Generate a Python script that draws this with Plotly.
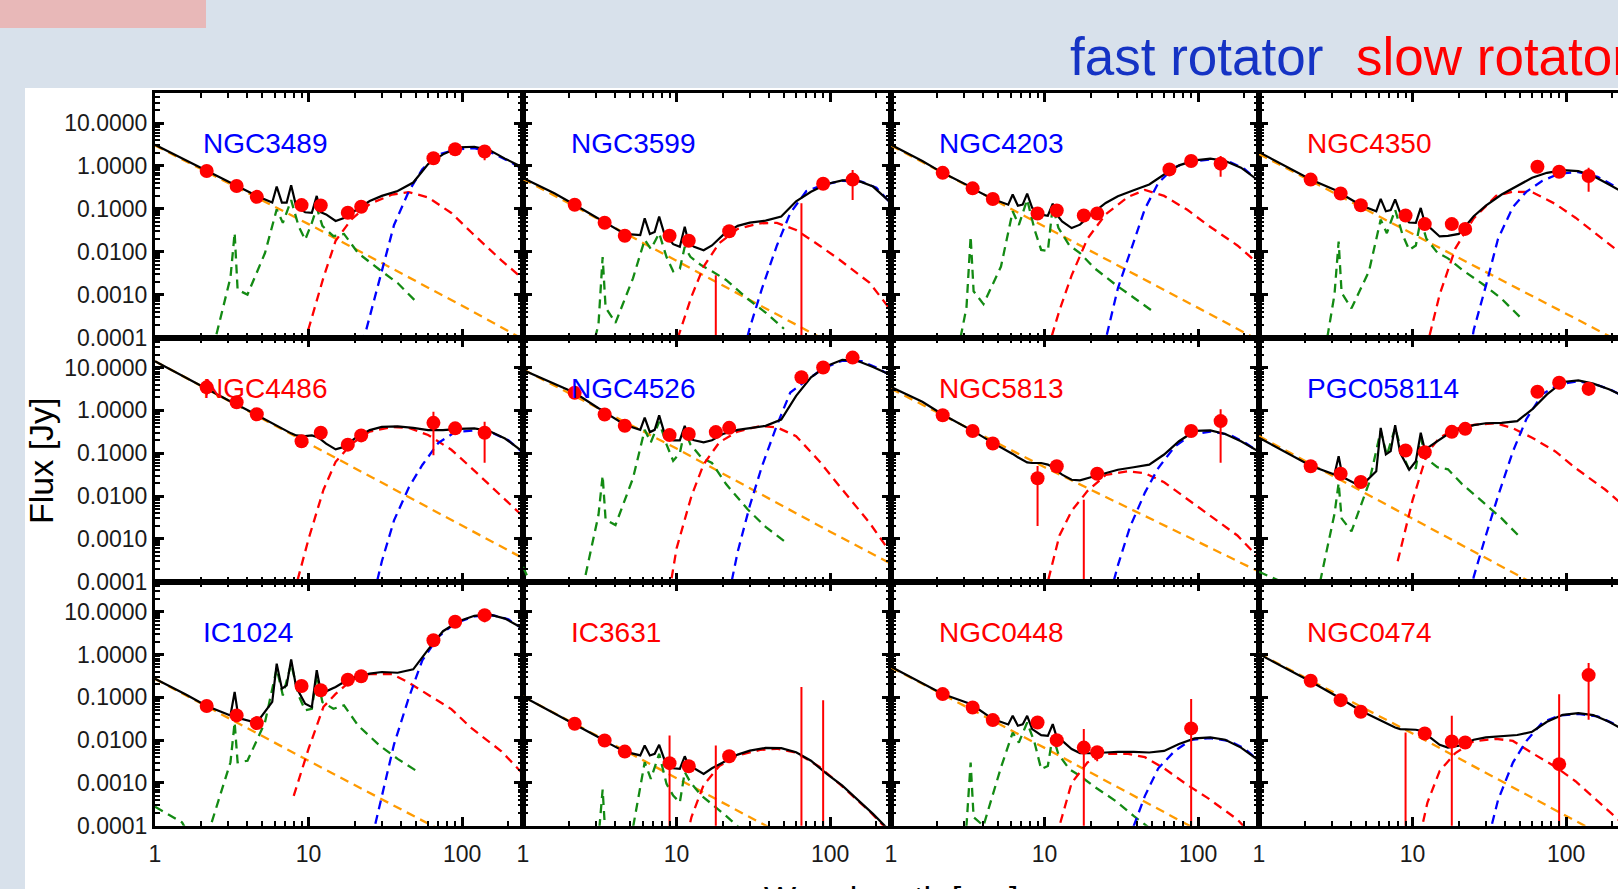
import plotly.graph_objects as go

# ---------------- wavelength grids (micron) ----------------
WL_PHOT = [2.17, 3.4, 4.6, 9, 12, 18, 22, 65, 90, 140]
WL_TOTAL = [1, 1.6, 2.17, 3.1, 3.3, 3.5, 4.6, 5.8, 6.2, 6.7, 7.2, 7.7, 8.3, 9.5, 10.5, 11.3,
            12.0, 13, 15, 17, 20, 25, 30, 38, 48, 60, 75, 95, 120, 150, 190, 250]
WL_STAR = [1, 10, 100, 250]
WL_PAH = [1, 1.5, 2.0, 2.5, 3.1, 3.3, 3.45, 4.0, 5.2, 6.2, 6.8, 7.7, 8.6, 9.5, 10.5, 11.3,
          12.3, 14.5, 17, 21, 29, 38, 50]
WL_WARM = [8, 10, 12.5, 15, 19, 25, 35, 45, 60, 85, 115, 180, 250]
WL_COLD = [20, 25, 30, 36, 45, 55, 70, 90, 120, 160, 200, 250]

# ---------------- NGC3489 ----------------
ngc3489_phot = [0.76, 0.34, 0.19, 0.122, 0.12, 0.081, 0.112, 1.51, 2.45, 2.16]
ngc3489_err = [0, 0, 0, 0, 0, 0, 0, 0, 0, 0.8]
ngc3489_total = [3.1, 1.33, 0.76, 0.40, 0.355, 0.32, 0.20, 0.14, 0.33, 0.14, 0.14, 0.355, 0.115, 0.083,
                 0.081, 0.20, 0.083, 0.074, 0.052, 0.061, 0.089, 0.152, 0.20, 0.26, 0.41, 1.1, 1.86,
                 2.7, 2.8, 2.35, 1.48, 0.91]
ngc3489_star = [3.0, 0.044, 5.5e-4, 9e-5]
ngc3489_pah = [1.1e-4, 1e-5, 1e-5, 1.1e-4, 2.5e-3, 0.0275, 1.3e-3, 1.0e-3, 9.3e-3, 0.097, 0.047, 0.16,
               0.04, 0.019, 0.047, 0.106, 0.04, 0.023, 0.026, 9.3e-3, 3.8e-3, 1.86e-3, 6.9e-4]
ngc3489_warm = [1.5e-5, 1.6e-4, 2.5e-3, 0.018, 0.057, 0.13, 0.215, 0.245, 0.185, 0.08, 0.028, 6.3e-3, 2.3e-3]
ngc3489_cold = [1.5e-5, 3e-4, 3.3e-3, 0.042, 0.26, 0.84, 1.85, 2.4, 2.6, 1.95, 1.3, 0.83]

# ---------------- NGC3599 ----------------
ngc3599_phot = [0.124, 0.0475, 0.0236, 0.0236, 0.018, 3e-5, 0.030, 3e-5, 0.385, 0.48]
ngc3599_err = [0, 0, 0, 0, 0, 2.8e-3, 0, 0.135, 0, 0.32]
ngc3599_total = [0.52, 0.23, 0.124, 0.060, 0.052, 0.046, 0.026, 0.0244, 0.060, 0.0258, 0.029, 0.066,
                 0.027, 0.015, 0.013, 0.038, 0.0156, 0.013, 0.0108, 0.014, 0.0244, 0.040, 0.0475, 0.053,
                 0.066, 0.15, 0.25, 0.38, 0.46, 0.46, 0.33, 0.135]
ngc3599_star = [0.5, 6.2e-3, 7.5e-5, 1.3e-5]
ngc3599_pah = [1e-5, 1e-5, 1e-5, 1e-5, 2e-4, 7.5e-3, 5e-4, 2.2e-4, 2.4e-3, 0.019, 0.0115, 0.027, 7.5e-3,
               3.5e-3, 4.0e-3, 0.013, 7.6e-3, 4.8e-3, 3.5e-3, 2.2e-3, 8e-4, 3.8e-4, 1.6e-4]
ngc3599_warm = [1e-5, 8e-5, 9e-4, 4.5e-3, 0.016, 0.034, 0.046, 0.047, 0.032, 0.014, 6.5e-3, 1.9e-3, 4.2e-4]
ngc3599_cold = [1e-6, 1.5e-5, 1.7e-4, 1.4e-3, 0.014, 0.08, 0.26, 0.36, 0.45, 0.43, 0.31, 0.13]

# ---------------- NGC4203 ----------------
ngc4203_phot = [0.69, 0.30, 0.17, 0.078, 0.091, 0.070, 0.078, 0.83, 1.30, 1.13]
ngc4203_err = [0, 0, 0, 0, 0, 0, 0, 0, 0, 0.57]
ngc4203_total = [3.1, 1.30, 0.69, 0.37, 0.325, 0.28, 0.17, 0.125, 0.215, 0.118, 0.125, 0.227, 0.105,
                 0.073, 0.069, 0.132, 0.073, 0.051, 0.0356, 0.0427, 0.073, 0.137, 0.197, 0.27, 0.37,
                 0.63, 1.03, 1.35, 1.48, 1.30, 0.91, 0.44]
ngc4203_star = [3.0, 0.039, 4.9e-4, 8.5e-5]
ngc4203_pah = [1e-5, 1e-5, 1e-5, 1e-5, 5e-4, 0.0227, 1.2e-3, 6e-4, 4.5e-3, 0.0875, 0.042, 0.164, 0.033,
               0.011, 0.0103, 0.115, 0.036, 0.014, 9.3e-3, 4.2e-3, 1.7e-3, 8.5e-4, 4.2e-4]
ngc4203_warm = [1e-6, 3e-5, 4.3e-4, 2.8e-3, 0.02, 0.075, 0.19, 0.275, 0.2, 0.095, 0.042, 0.014, 5e-3]
ngc4203_cold = [1e-6, 9e-5, 1.4e-3, 0.01, 0.1, 0.4, 0.93, 1.25, 1.42, 1.25, 0.85, 0.43]

# ---------------- NGC4350 ----------------
ngc4350_phot = [0.48, 0.227, 0.121, 0.070, 0.044, 0.044, 0.034, 0.96, 0.73, 0.58]
ngc4350_err = [0, 0, 0, 0, 0, 0, 0, 0, 0, 0.33]
ngc4350_total = [2.1, 0.88, 0.48, 0.28, 0.25, 0.215, 0.121, 0.0875, 0.17, 0.0875, 0.093, 0.165, 0.08,
                 0.048, 0.047, 0.105, 0.047, 0.0356, 0.0227, 0.0235, 0.026, 0.067, 0.119, 0.215, 0.34,
                 0.53, 0.69, 0.80, 0.76, 0.58, 0.37, 0.215]
ngc4350_star = [1.9, 0.026, 3.6e-4, 6.5e-5]
ngc4350_pah = [1e-5, 1e-5, 1e-5, 1e-5, 1e-3, 0.0173, 1.1e-3, 4.8e-4, 3.5e-3, 0.056, 0.027, 0.095, 0.025,
               0.011, 0.014, 0.056, 0.02, 9.5e-3, 7e-3, 3.8e-3, 1.7e-3, 8e-4, 3e-4]
ngc4350_warm = [1e-7, 1e-6, 7e-5, 1e-3, 0.012, 0.06, 0.2, 0.25, 0.245, 0.13, 0.062, 0.017, 7e-3]
ngc4350_cold = [1e-6, 1.5e-4, 1.6e-3, 0.02, 0.11, 0.25, 0.45, 0.66, 0.72, 0.56, 0.36, 0.21]

# ---------------- NGC4486 ----------------
ngc4486_phot = [3.44, 1.55, 0.81, 0.19, 0.30, 0.158, 0.26, 0.51, 0.38, 0.30]
ngc4486_err = [1.2, 0.3, 0, 0, 0, 0, 0, 0.42, 0, 0.24]
ngc4486_total = [14, 5.8, 3.2, 1.6, 1.44, 1.29, 0.78, 0.50, 0.43, 0.38, 0.32, 0.29, 0.26, 0.25, 0.26,
                 0.24, 0.21, 0.167, 0.123, 0.14, 0.22, 0.345, 0.41, 0.42, 0.39, 0.345, 0.345, 0.37,
                 0.38, 0.33, 0.22, 0.106]
ngc4486_star = [14, 0.17, 2.1e-3, 3.5e-4]
ngc4486_pah = None
ngc4486_warm = [5e-5, 1.0e-3, 0.014, 0.063, 0.165, 0.32, 0.41, 0.39, 0.265, 0.12, 0.045, 0.01, 3.3e-3]
ngc4486_cold = [1e-6, 2e-5, 3e-4, 2.7e-3, 0.016, 0.053, 0.175, 0.31, 0.34, 0.29, 0.2, 0.1]

# ---------------- NGC4526 ----------------
ngc4526_phot = [2.57, 0.80, 0.435, 0.264, 0.28, 0.31, 0.39, 5.9, 10, 17]
ngc4526_err = [0, 0, 0, 0, 0, 0, 0, 0, 0, 3]
ngc4526_total = [8.7, 4.2, 2.57, 1.12, 1.0, 0.85, 0.46, 0.35, 0.68, 0.31, 0.35, 0.76, 0.31, 0.20, 0.20,
                 0.435, 0.224, 0.20, 0.179, 0.20, 0.28, 0.35, 0.39, 0.435, 0.61, 2.17, 5.9, 10.9, 15.1,
                 14.3, 10.3, 6.6]
ngc4526_star = [9.0, 0.128, 1.47e-3, 2.6e-4]
ngc4526_pah = [2.2e-4, 1e-5, 1e-5, 1e-4, 3.6e-3, 0.03, 2.8e-3, 2.1e-3, 0.026, 0.35, 0.18, 0.54, 0.16,
               0.066, 0.10, 0.35, 0.16, 0.079, 0.059, 0.019, 4.9e-3, 1.9e-3, 9e-4]
ngc4526_warm = [5e-6, 6e-4, 0.01, 0.055, 0.18, 0.32, 0.43, 0.40, 0.25, 0.065, 0.017, 2.4e-3, 4.5e-4]
ngc4526_cold = [1e-5, 5e-4, 6e-3, 0.05, 0.45, 2.6, 5.0, 9.5, 14.5, 14, 10, 6.4]

# ---------------- NGC5813 ----------------
ngc5813_phot = [0.77, 0.33, 0.168, 0.026, 0.0495, 3e-5, 0.033, None, 0.33, 0.56]
ngc5813_err = [0, 0, 0, 0.024, 0, 8.2e-3, 0, 0, 0, 0.5]
ngc5813_total = [3.5, 1.59, 0.80, 0.405, 0.357, 0.315, 0.174, 0.111, 0.096, 0.080, 0.070, 0.061, 0.059,
                 0.059, 0.054, 0.047, 0.039, 0.0316, 0.024, 0.0233, 0.0274, 0.0345, 0.041, 0.047, 0.054,
                 0.093, 0.19, 0.33, 0.34, 0.28, 0.19, 0.107]
ngc5813_star = [3.2, 0.047, 8.5e-4, 1.7e-4]
ngc5813_pah = None
ngc5813_warm = [1e-6, 5e-5, 1.2e-3, 4.5e-3, 0.013, 0.031, 0.038, 0.034, 0.021, 8.5e-3, 3.9e-3, 1.2e-3, 3.5e-4]
ngc5813_cold = [1e-6, 2e-5, 2.4e-4, 1.9e-3, 0.012, 0.045, 0.14, 0.27, 0.32, 0.27, 0.18, 0.105]

# ---------------- PGC058114 ----------------
pgc058114_phot = [0.0495, 0.033, 0.0213, 0.115, 0.105, 0.315, 0.37, 2.72, 4.4, 3.2]
pgc058114_err = [0, 0, 0, 0, 0, 0, 0, 0, 0, 1.0]
pgc058114_total = [0.228, 0.093, 0.051, 0.0316, 0.085, 0.0279, 0.0168, 0.038, 0.39, 0.093, 0.111, 0.45,
                   0.102, 0.041, 0.065, 0.30, 0.122, 0.146, 0.21, 0.28, 0.357, 0.45, 0.50, 0.51, 0.56,
                   1.05, 2.36, 4.6, 5.0, 4.2, 3.1, 1.97]
pgc058114_star = [0.25, 3.0e-3, 3.5e-5, 6e-6]
pgc058114_pah = [1.7e-4, 9e-5, 1e-5, 1e-4, 3.8e-3, 0.02, 3e-3, 1.5e-3, 0.02, 0.33, 0.09, 0.39, 0.093,
                 0.041, 0.045, 0.228, 0.075, 0.047, 0.042, 0.019, 7e-3, 3e-3, 1.1e-3]
pgc058114_warm = [3e-4, 8e-3, 0.105, 0.23, 0.37, 0.46, 0.5, 0.38, 0.23, 0.11, 0.045, 0.014, 5e-3]
pgc058114_cold = [1e-6, 1.3e-4, 1.2e-3, 0.01, 0.11, 0.62, 2.4, 4.0, 4.8, 3.9, 2.9, 1.9]

# ---------------- IC1024 ----------------
ic1024_phot = [0.0625, 0.0378, 0.025, 0.184, 0.146, 0.259, 0.31, 2.16, 5.8, 8.3]
ic1024_err = [0, 0, 0, 0, 0, 0, 0, 0, 0, 2.6]
ic1024_total = [0.273, 0.115, 0.0625, 0.0378, 0.133, 0.0327, 0.0255, 0.078, 0.61, 0.159, 0.19, 0.77,
                0.174, 0.071, 0.059, 0.43, 0.138, 0.138, 0.174, 0.228, 0.30, 0.357, 0.39, 0.375, 0.45,
                1.3, 3.5, 6.0, 8.0, 8.6, 6.9, 4.0]
ic1024_star = [0.27, 3.3e-3, 4.3e-5, 7e-6]
ic1024_pah = [2.8e-4, 1.2e-4, 2e-5, 2.5e-4, 3.05e-3, 0.026, 3.05e-3, 3.3e-3, 0.026, 0.47, 0.111, 0.61,
              0.111, 0.0495, 0.054, 0.33, 0.078, 0.054, 0.065, 0.022, 7.5e-3, 3.65e-3, 1.95e-3]
ic1024_warm = [5e-4, 6.3e-3, 0.06, 0.12, 0.25, 0.35, 0.35, 0.22, 0.115, 0.053, 0.019, 5.5e-3, 1.6e-3]
ic1024_cold = [1e-6, 3e-5, 5.5e-4, 8e-3, 0.1, 0.73, 2.6, 5.4, 7.8, 8.2, 6.6, 3.9]

# ---------------- IC3631 ----------------
ic3631_phot = [0.0241, 9.8e-3, 5.4e-3, 2.9e-3, 2.46e-3, 3e-5, 4.2e-3, 3e-5, 3e-5, None]
ic3631_err = [0, 0, 0, 9.9e-3, 0, 7.5e-3, 1.2e-3, 0.174, 0.085, 0]
ic3631_total = [0.105, 0.0429, 0.0241, 0.0117, 0.0104, 8.97e-3, 5.4e-3, 4.4e-3, 7.5e-3, 4.4e-3, 4.8e-3,
                7.8e-3, 3.65e-3, 2.2e-3, 2.13e-3, 4.2e-3, 2.55e-3, 2.2e-3, 1.63e-3, 2.2e-3, 3.05e-3,
                4.6e-3, 5.7e-3, 6.6e-3, 6.5e-3, 5.2e-3, 3.3e-3, 1.63e-3, 8.7e-4, 4.2e-4, 1.9e-4, 7e-5]
ic3631_star = [0.105, 1.3e-3, 1.6e-5, 3e-6]
ic3631_pah = [1e-5, 1e-5, 1e-5, 1e-5, 5e-5, 7e-4, 5e-5, 1e-5, 9e-5, 3.05e-3, 1.24e-3, 4.8e-3, 9.5e-4,
              5.1e-4, 3.5e-4, 1.8e-3, 1.04e-3, 5.1e-4, 3.2e-4, 1.7e-4, 6e-5, 2.5e-5, 1e-5]
ic3631_warm = [1e-7, 5e-6, 1.6e-4, 9e-4, 2.5e-3, 4.4e-3, 5.9e-3, 6.3e-3, 5.1e-3, 2.4e-3, 9.5e-4, 2.2e-4, 6.5e-5]
ic3631_cold = None

# ---------------- NGC0448 ----------------
ngc0448_phot = [0.119, 0.058, 0.0294, 0.0259, 0.01, 6.7e-3, 5.2e-3, None, 0.0188, None]
ngc0448_err = [0, 0, 0, 0, 0, 0.0114, 2e-3, 0, 0.072, 0]
ngc0448_total = [0.52, 0.215, 0.119, 0.076, 0.0695, 0.061, 0.031, 0.0233, 0.037, 0.0217, 0.0233, 0.037,
                 0.0181, 0.0131, 0.0126, 0.0237, 0.0116, 9.7e-3, 6.2e-3, 5.0e-3, 4.95e-3, 5.15e-3,
                 5.35e-3, 5.35e-3, 5.15e-3, 5.6e-3, 8.1e-3, 0.011, 0.0116, 0.0102, 6.7e-3, 3.3e-3]
ngc0448_star = [0.5, 6.6e-3, 7.8e-5, 1.4e-5]
ngc0448_pah = [1e-5, 1e-5, 1e-5, 1e-5, 1e-4, 3.0e-3, 1.6e-4, 1e-4, 2.3e-3, 0.015, 8.8e-3, 0.0259, 8.8e-3,
               2.1e-3, 2.5e-3, 0.0126, 4.7e-3, 2.1e-3, 1.47e-3, 8.3e-4, 3.8e-4, 1.7e-4, 8e-5]
ngc0448_warm = [1e-7, 3e-6, 1e-4, 1e-3, 3.0e-3, 4.8e-3, 4.8e-3, 4.0e-3, 2.2e-3, 9e-4, 4.5e-4, 1.4e-4, 4e-5]
ngc0448_cold = [1e-7, 1e-6, 1e-5, 6e-5, 5e-4, 2.2e-3, 5.5e-3, 0.0102, 0.0112, 0.0095, 6.4e-3, 3.2e-3]

# ---------------- NGC0474 ----------------
ngc0474_phot = [0.244, 0.086, 0.046, 3e-5, 0.0143, 9.3e-3, 8.8e-3, None, 2.75e-3, 0.33]
ngc0474_err = [0, 0, 0, 0.015, 0, 0.028, 2e-3, 0, 0.116, 0.3]
ngc0474_total = [1.02, 0.42, 0.235, 0.113, 0.101, 0.088, 0.0485, 0.0321, 0.0283, 0.025, 0.0217, 0.0198,
                 0.0181, 0.0177, 0.0175, 0.0166, 0.0144, 0.0116, 7.8e-3, 6.7e-3, 7.4e-3, 0.0102, 0.0116,
                 0.0126, 0.0132, 0.0157, 0.0269, 0.039, 0.0428, 0.0385, 0.0269, 0.0157]
ngc0474_star = [1.05, 0.0143, 1.7e-4, 3e-5]
ngc0474_pah = None
ngc0474_warm = [1e-7, 1e-5, 3.5e-4, 1.9e-3, 5.0e-3, 9.5e-3, 0.0107, 9.6e-3, 5e-3, 2.4e-3, 1.1e-3, 2.5e-4, 9e-5]
ngc0474_cold = [1e-7, 1e-6, 3e-5, 4e-4, 3e-3, 9.5e-3, 0.026, 0.0375, 0.041, 0.036, 0.025, 0.015]

# name, rotator class, photometry, errors, total, stars, PAH/hot dust, warm dust, cold dust
PANELS = [
    ("NGC3489", "fast", ngc3489_phot, ngc3489_err, ngc3489_total, ngc3489_star, ngc3489_pah, ngc3489_warm, ngc3489_cold),
    ("NGC3599", "fast", ngc3599_phot, ngc3599_err, ngc3599_total, ngc3599_star, ngc3599_pah, ngc3599_warm, ngc3599_cold),
    ("NGC4203", "fast", ngc4203_phot, ngc4203_err, ngc4203_total, ngc4203_star, ngc4203_pah, ngc4203_warm, ngc4203_cold),
    ("NGC4350", "slow", ngc4350_phot, ngc4350_err, ngc4350_total, ngc4350_star, ngc4350_pah, ngc4350_warm, ngc4350_cold),
    ("NGC4486", "slow", ngc4486_phot, ngc4486_err, ngc4486_total, ngc4486_star, ngc4486_pah, ngc4486_warm, ngc4486_cold),
    ("NGC4526", "fast", ngc4526_phot, ngc4526_err, ngc4526_total, ngc4526_star, ngc4526_pah, ngc4526_warm, ngc4526_cold),
    ("NGC5813", "slow", ngc5813_phot, ngc5813_err, ngc5813_total, ngc5813_star, ngc5813_pah, ngc5813_warm, ngc5813_cold),
    ("PGC058114", "fast", pgc058114_phot, pgc058114_err, pgc058114_total, pgc058114_star, pgc058114_pah, pgc058114_warm, pgc058114_cold),
    ("IC1024", "fast", ic1024_phot, ic1024_err, ic1024_total, ic1024_star, ic1024_pah, ic1024_warm, ic1024_cold),
    ("IC3631", "slow", ic3631_phot, ic3631_err, ic3631_total, ic3631_star, ic3631_pah, ic3631_warm, ic3631_cold),
    ("NGC0448", "slow", ngc0448_phot, ngc0448_err, ngc0448_total, ngc0448_star, ngc0448_pah, ngc0448_warm, ngc0448_cold),
    ("NGC0474", "slow", ngc0474_phot, ngc0474_err, ngc0474_total, ngc0474_star, ngc0474_pah, ngc0474_warm, ngc0474_cold),
]

Y_TICKS = [1e-4, 1e-3, 1e-2, 0.1, 1, 10]
Y_TICKTEXT = ["0.0001", "0.0010", "0.0100", "0.1000", "1.0000", "10.0000"]
X_TICKS = [1, 10, 100]
X_TICKTEXT = ["1", "10", "100"]

# ---------------- page geometry (pixels) ----------------
W, H = 1618, 889
COL_EDGES = [155, 523, 891, 1259, 1627]
ROW_EDGES = [93, 337.5, 581.7, 825.8]
X_LOG_SPAN = 2.396          # log10 of the long-wavelength limit (1 .. ~249 micron)
Y_LOG_RANGE = [-4, 1.70]

CLASS_COLOR = {"fast": "#0000ff", "slow": "#ff0000"}
C_STAR = "#ff9a00"
C_PAH = "#138a13"
C_WARM = "#ff0000"
C_COLD = "#0000ff"
FONT = "Liberation Sans, Arial, sans-serif"

minor_log = [m * 10.0 ** d for d in range(-5, 3) for m in range(2, 10)]

fig = go.Figure()
layout_axes = {}
annotations = []

for i, (name, cls, phot, err, total, star, pah, warm, cold) in enumerate(PANELS):
    r, c = divmod(i, 4)
    n = "" if i == 0 else str(i + 1)
    xref, yref = "x" + n, "y" + n

    left, right = COL_EDGES[c], COL_EDGES[c + 1]
    vis_right = min(right, W)
    top, bottom = ROW_EDGES[r], ROW_EDGES[r + 1]
    xr = [0, X_LOG_SPAN * (vis_right - left) / (right - left)]

    def comp(wl, vals, color):
        fig.add_trace(go.Scatter(
            x=wl, y=vals, mode="lines", xaxis=xref, yaxis=yref,
            line=dict(color=color, width=2.3, dash="9px,6px"),
            hoverinfo="skip", showlegend=False))

    comp(WL_STAR, star, C_STAR)
    if pah is not None:
        comp(WL_PAH, pah, C_PAH)
    comp(WL_WARM, warm, C_WARM)
    if cold is not None:
        comp(WL_COLD, cold, C_COLD)

    fig.add_trace(go.Scatter(
        x=WL_TOTAL, y=total, mode="lines", xaxis=xref, yaxis=yref,
        line=dict(color="black", width=2.2), showlegend=False, hoverinfo="skip"))

    minus = [min(e, 0.999 * f) if f is not None else 0 for f, e in zip(phot, err)]
    fig.add_trace(go.Scatter(
        x=WL_PHOT, y=phot, mode="markers", xaxis=xref, yaxis=yref,
        marker=dict(color="#ff0000", size=14, line=dict(width=0)),
        error_y=dict(type="data", symmetric=False, array=err, arrayminus=minus,
                     color="#ff0000", thickness=2, width=0),
        showlegend=False, hoverinfo="skip"))

    xaxis = dict(
        type="log", domain=[left / W, vis_right / W], range=xr, anchor=yref,
        automargin=False,
        showgrid=False, zeroline=False, showline=True, linecolor="black", linewidth=3,
        mirror="ticks", ticks="inside", ticklen=9, tickwidth=2.5, tickcolor="black",
        tickmode="array", tickvals=X_TICKS, ticktext=X_TICKTEXT,
        showticklabels=(r == 2), ticklabelstandoff=6,
        tickfont=dict(family=FONT, size=23, color="#1a1a1a"),
        minor=dict(ticks="inside", ticklen=5, tickwidth=2, tickcolor="black",
                   tickmode="array", tickvals=minor_log, showgrid=False),
    )
    yaxis = dict(
        type="log", domain=[1 - bottom / H, 1 - top / H], range=Y_LOG_RANGE, anchor=xref,
        automargin=False,
        showgrid=False, zeroline=False, showline=True, linecolor="black", linewidth=3,
        mirror=("ticks" if c < 3 else False), ticks="inside", ticklen=9, tickwidth=2.5,
        tickcolor="black", tickmode="array", tickvals=Y_TICKS, ticktext=Y_TICKTEXT,
        showticklabels=(c == 0), ticklabelstandoff=0,
        tickfont=dict(family=FONT, size=23, color="#1a1a1a"),
        minor=dict(ticks="inside", ticklen=5, tickwidth=2, tickcolor="black",
                   tickmode="array", tickvals=minor_log, showgrid=False),
    )
    layout_axes["xaxis" + n] = xaxis
    layout_axes["yaxis" + n] = yaxis

    annotations.append(dict(
        text=name, xref="paper", yref="paper", x=(left + 46) / W, y=1 - (top + 50.5) / H,
        xanchor="left", yanchor="middle", showarrow=False,
        font=dict(family=FONT, size=28, color=CLASS_COLOR[cls])))

# slide header and axis titles
annotations += [
    dict(text="fast rotator", xref="paper", yref="paper", x=1068 / W, y=1 - 57 / H,
         xanchor="left", yanchor="middle", showarrow=False,
         font=dict(family=FONT, size=53, color="#1533c4")),
    dict(text="slow rotator", xref="paper", yref="paper", x=1354 / W, y=1 - 57 / H,
         xanchor="left", yanchor="middle", showarrow=False,
         font=dict(family=FONT, size=53, color="#ff0000")),
    dict(text="Flux [Jy]", xref="paper", yref="paper", x=41 / W, y=1 - 461 / H,
         xanchor="center", yanchor="middle", textangle=-90, showarrow=False,
         font=dict(family=FONT, size=34, color="black")),
    dict(text="Wavelength [μm]", xref="paper", yref="paper", x=891 / W, y=1 - 877 / H,
         xanchor="center", yanchor="top", showarrow=False,
         font=dict(family=FONT, size=34, color="black")),
]

shapes = [
    dict(type="rect", xref="paper", yref="paper", x0=25 / W, x1=1.01, y0=-0.05, y1=1 - 88 / H,
         fillcolor="white", line=dict(width=0), layer="below"),
    dict(type="rect", xref="paper", yref="paper", x0=-0.01, x1=206 / W, y0=1 - 28 / H, y1=1.01,
         fillcolor="#e8b8b8", line=dict(width=0), layer="below"),
]

fig.update_layout(
    width=W, height=H, autosize=False,
    margin=dict(l=0, r=0, t=0, b=0, pad=0, autoexpand=False),
    paper_bgcolor="#d8e1eb", plot_bgcolor="white",
    showlegend=False, annotations=annotations, shapes=shapes,
    **layout_axes,
)

fig.write_html("out.html")
